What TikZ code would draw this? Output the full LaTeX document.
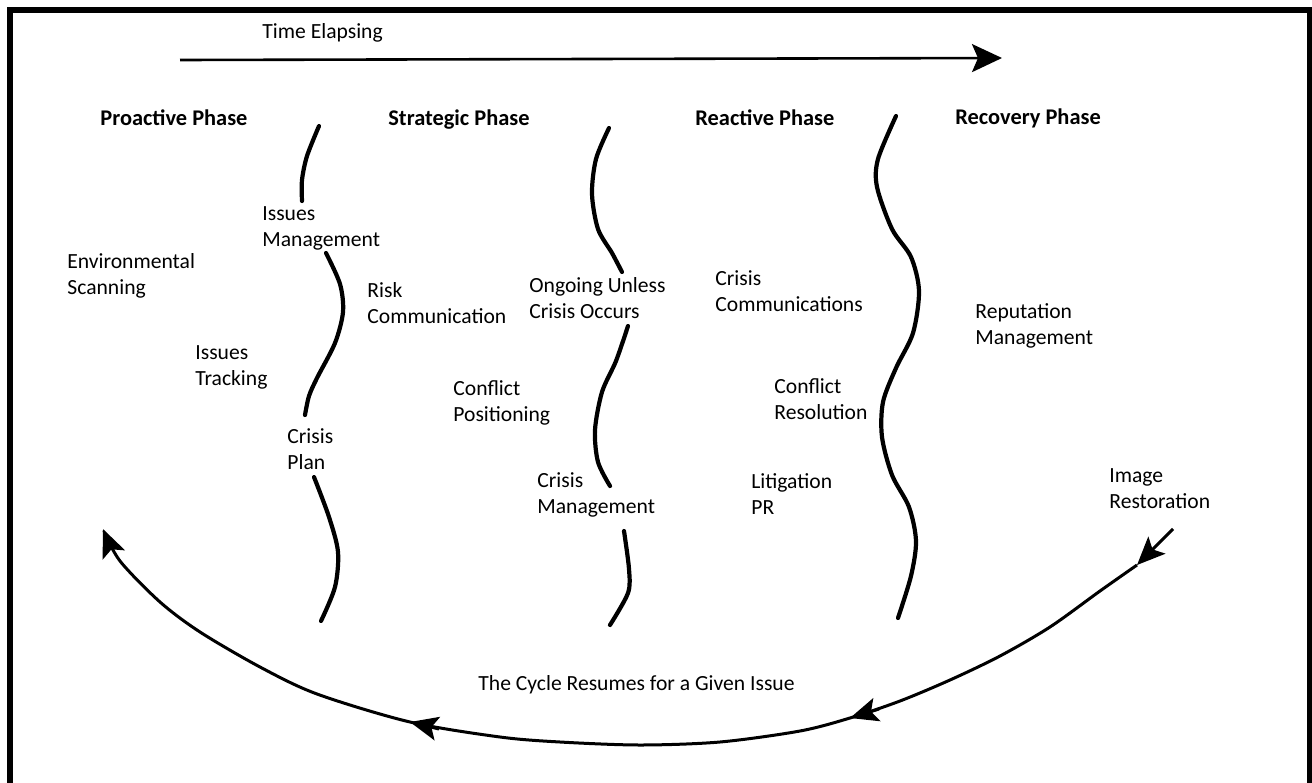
\documentclass[tikz,border=0pt]{standalone}
\usepackage{fontspec}
\setmainfont{Carlito}
\usetikzlibrary{arrows.meta}
\newcommand{\twoline}[2]{\begin{tabular}[t]{@{}l@{}}#1\\#2\end{tabular}}
\begin{document}
\begin{tikzpicture}[x=0.5pt,y=-0.5pt,
  lbl/.style={anchor=base west, inner sep=0pt, font=\fontsize{10.8}{13}\selectfont},
  phase/.style={anchor=base west, inner sep=0pt, font=\fontsize{11.2}{13}\selectfont\bfseries},
  wave/.style={line width=2.1pt, line cap=round},
  cyc/.style={line width=1.5pt},
  tip/.style={-{Stealth[length=14pt,width=12pt,inset=3pt]}}]
\useasboundingbox (0,0) rectangle (1312,782);
\clip (0,0) rectangle (1312,782);
% frame
\draw[line width=3pt] (10,800) -- (10,10) -- (1310,10) -- (1310,800);
% time arrow
\node[lbl] (time) at (262,38) {Time Elapsing};
\coordinate (ts) at (180,60);
\coordinate (te) at (1002,58);
\draw[line width=1.3pt, -{Stealth[length=15pt,width=14pt,inset=3pt]}] (ts) -- (te);
% phases
\node[phase] (pro) at (100,125) {Proactive Phase};
\node[phase] (str) at (388,125) {Strategic Phase};
\node[phase] (rea) at (695,125) {Reactive Phase};
\node[phase] (rec) at (955,124) {Recovery Phase};
% labels
\node[lbl] (env) at (67,268) {\twoline{Environmental}{Scanning}};
\node[lbl] (ism) at (262,220) {\twoline{Issues}{Management}};
\node[lbl] (risk) at (367,297) {\twoline{Risk}{Communication}};
\node[lbl] (ong) at (529,292) {\twoline{Ongoing Unless}{Crisis Occurs}};
\node[lbl] (ist) at (195,359) {\twoline{Issues}{Tracking}};
\node[lbl] (cpl) at (287,443) {\twoline{Crisis}{Plan}};
\node[lbl] (cpos) at (453,395) {\twoline{Conflict}{Positioning}};
\node[lbl] (cmg) at (537,487) {\twoline{Crisis}{Management}};
\node[lbl] (ccom) at (715,285) {\twoline{Crisis}{Communications}};
\node[lbl] (cres) at (774,393) {\twoline{Conflict}{Resolution}};
\node[lbl] (lit) at (751,488) {\twoline{Litigation}{PR}};
\node[lbl] (rep) at (975,318) {\twoline{Reputation}{Management}};
\node[lbl] (img) at (1109,482) {\twoline{Image}{Restoration}};
\node[lbl] (cyc) at (478,690) {The Cycle Resumes for a Given Issue};
% wave 1
\draw[wave] plot[smooth] coordinates {(319,126) (307,156) (302,180) (302,201)};
\draw[wave] plot[smooth] coordinates {(326,253) (340,284) (343,312) (335,343) (317,378) (309,396) (305,415)};
\draw[wave] plot[smooth] coordinates {(314,477) (329,517) (338,552) (335,587) (321,621)};
% wave 2
\draw[wave] plot[smooth] coordinates {(609,128) (596,159) (592,194) (598,229) (612,253) (622,272)};
\draw[wave] plot[smooth] coordinates {(628,326) (616,361) (602,392) (595,430) (598,462) (610,486)};
\draw[wave] plot[smooth] coordinates {(624,531) (629,569) (628,593) (610,625)};
% wave 3
\draw[wave] plot[smooth] coordinates {(896,116) (878,159) (877,187) (892,229) (911,257) (919,291) (913,333) (896,368) (883,402) (882,437) (892,475) (909,507) (916,541) (911,576) (898,618)};
% cycle arc
\coordinate (irs) at (1173,529);
\coordinate (a1) at (1137,565);
\coordinate (a2) at (850,718);
\coordinate (b2) at (879,709);
\coordinate (a3) at (410,722);
\coordinate (b3) at (439,729);
\coordinate (a4) at (103,529);
\draw[cyc,tip] (irs) -- (a1);
\draw[cyc,tip] plot[smooth] coordinates {(a1) (1100,591) (1050,627) (1000,656) (950,680) (900,701) (a2) (800,731) (720,742) (640,745) (560,742) (500,737) (a3) (317,694) (260,667) (200,632) (160,602) (120,561) (a4)};
\draw[cyc,tip] (b2) -- (a2);
\draw[cyc,tip] (b3) -- (a3);
\end{tikzpicture}
\end{document}
